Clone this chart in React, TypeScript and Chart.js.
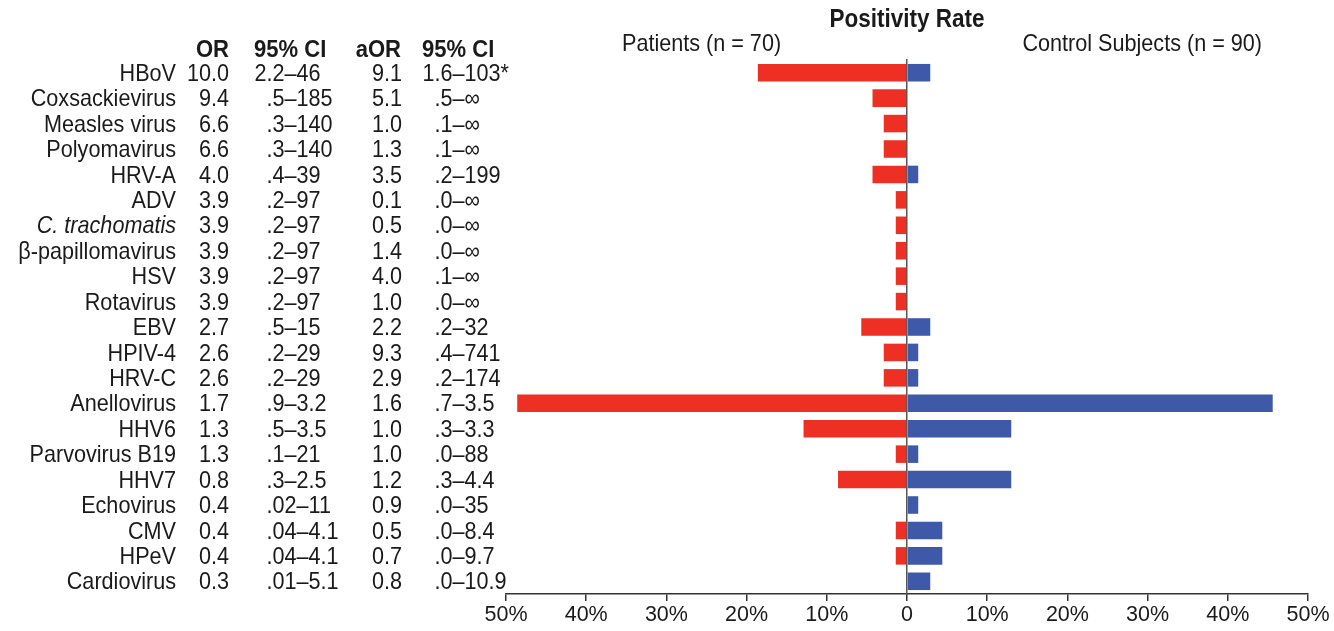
import { useEffect, useRef } from 'react';
import { Chart, registerables } from 'chart.js';

Chart.register(...registerables);

const viruses = ['HBoV', 'Coxsackievirus', 'Measles virus', 'Polyomavirus', 'HRV-A', 'ADV', 'C. trachomatis', 'β-papillomavirus', 'HSV', 'Rotavirus', 'EBV', 'HPIV-4', 'HRV-C', 'Anellovirus', 'HHV6', 'Parvovirus B19', 'HHV7', 'Echovirus', 'CMV', 'HPeV', 'Cardiovirus'];
const italicLabels = ['C. trachomatis'];
const orValues = ['10.0', '9.4', '6.6', '6.6', '4.0', '3.9', '3.9', '3.9', '3.9', '3.9', '2.7', '2.6', '2.6', '1.7', '1.3', '1.3', '0.8', '0.4', '0.4', '0.4', '0.3'];
const orCI = ['2.2–46', '.5–185', '.3–140', '.3–140', '.4–39', '.2–97', '.2–97', '.2–97', '.2–97', '.2–97', '.5–15', '.2–29', '.2–29', '.9–3.2', '.5–3.5', '.1–21', '.3–2.5', '.02–11', '.04–4.1', '.04–4.1', '.01–5.1'];
const aorValues = ['9.1', '5.1', '1.0', '1.3', '3.5', '0.1', '0.5', '1.4', '4.0', '1.0', '2.2', '9.3', '2.9', '1.6', '1.0', '1.0', '1.2', '0.9', '0.5', '0.7', '0.8'];
const aorCI = ['1.6–103*', '.5–∞', '.1–∞', '.1–∞', '.2–199', '.0–∞', '.0–∞', '.0–∞', '.1–∞', '.0–∞', '.2–32', '.4–741', '.2–174', '.7–3.5', '.3–3.3', '.0–88', '.3–4.4', '.0–35', '.0–8.4', '.0–9.7', '.0–10.9'];
const patientsRate = [18.6, 4.3, 2.9, 2.9, 4.3, 1.4, 1.4, 1.4, 1.4, 1.4, 5.7, 2.9, 2.9, 48.6, 12.9, 1.4, 8.6, 0, 1.4, 1.4, 0];
const controlRate = [2.9, 0, 0, 0, 1.4, 0, 0, 0, 0, 0, 2.9, 1.4, 1.4, 45.6, 13.0, 1.4, 13.0, 1.4, 4.4, 4.4, 2.9];
const tableHeaders = ['OR', '95% CI', 'aOR', '95% CI'];
const chartTitle = 'Positivity Rate';
const patientsLabel = 'Patients (n = 70)';
const controlLabel = 'Control Subjects (n = 90)';

const FONT = '"Liberation Sans", Arial, Helvetica, sans-serif';
const TEXT = '#1a1a1a';
const RED = '#EE3024';
const BLUE = '#3D59A8';
const NARROW = 0.9;

const tablePlugin = {
  id: 'tablePlugin',
  afterDraw(chart: any) {
    const ctx = chart.ctx;
    const y = chart.scales.y;
    const x = chart.scales.x;
    ctx.save();
    ctx.fillStyle = TEXT;
    ctx.textBaseline = 'middle';
    const reg = `24px ${FONT}`;
    const put = (s: string, px: number, py: number, align: string, font: string) => {
      ctx.save();
      ctx.font = font;
      ctx.textAlign = align;
      ctx.translate(px, py);
      ctx.scale(NARROW, 1);
      ctx.fillText(s, 0, 0);
      ctx.restore();
    };
    const decimalAlign = (s: string, anchor: number, yy: number) => {
      const idx = s.indexOf('.');
      const pre = idx >= 0 ? s.slice(0, idx) : '';
      ctx.font = reg;
      const w = ctx.measureText(pre).width * NARROW;
      put(s, anchor - w, yy, 'left', reg);
    };
    viruses.forEach((name, i) => {
      const yy = y.getPixelForValue(i) + 1.5;
      put(name, 176, yy, 'right', italicLabels.includes(name) ? `italic ${reg}` : reg);
      put(orValues[i], 229, yy, 'right', reg);
      decimalAlign(orCI[i], 266.5, yy);
      put(aorValues[i], 402, yy, 'right', reg);
      decimalAlign(aorCI[i], 434.5, yy);
    });
    const hy = y.getPixelForValue(0) - 22.5;
    const bold = `bold 24.5px ${FONT}`;
    put(tableHeaders[0], 229, hy, 'right', bold);
    put(tableHeaders[1], 254, hy, 'left', bold);
    put(tableHeaders[2], 401, hy, 'right', bold);
    put(tableHeaders[3], 422, hy, 'left', bold);

    put(chartTitle, x.getPixelForValue(0), 20, 'center', `bold 25px ${FONT}`);
    put(patientsLabel, 622, 44, 'left', reg);
    put(controlLabel, 1262, 44, 'right', reg);
    ctx.restore();
  },
};

export default function App() {
  const ref = useRef<HTMLCanvasElement | null>(null);
  useEffect(() => {
    if (!ref.current) return;
    Chart.defaults.font.family = FONT;
    const chart = new Chart(ref.current, {
      type: 'bar',
      data: {
        labels: viruses,
        datasets: [
          {
            label: patientsLabel,
            data: patientsRate.map((v) => -v),
            backgroundColor: RED,
            barPercentage: 0.69,
            categoryPercentage: 1,
          },
          {
            label: controlLabel,
            data: controlRate,
            backgroundColor: BLUE,
            barPercentage: 0.69,
            categoryPercentage: 1,
          },
        ],
      },
      options: {
        indexAxis: 'y',
        animation: false,
        responsive: false,
        maintainAspectRatio: false,
        layout: { padding: { left: 506, right: 26, top: 60, bottom: 0 } },
        plugins: { legend: { display: false }, tooltip: { enabled: false }, title: { display: false } },
        scales: {
          x: {
            type: 'linear',
            stacked: true,
            min: -50,
            max: 50,
            afterFit: (s: any) => { s.height = 37; },
            ticks: {
              stepSize: 10,
              padding: 1,
              color: TEXT,
              font: { size: 21.5, family: FONT },
              maxRotation: 0,
              callback: (v: any) => (Number(v) === 0 ? '0' : `${Math.abs(Number(v))}%`),
            },
            grid: { drawOnChartArea: false, drawTicks: true, tickLength: 7, color: '#333', lineWidth: 1.5 },
            border: { display: true, color: '#333', width: 1.5 },
          },
          y: {
            type: 'category',
            stacked: true,
            position: { x: 0 } as any,
            z: 1,
            ticks: { display: false },
            grid: { display: false, drawTicks: false },
            border: { display: true, color: '#555', width: 1.5 },
          },
        },
      } as any,
      plugins: [tablePlugin],
    });
    return () => chart.destroy();
  }, []);
  return (
    <div style={{ position: 'fixed', left: 0, top: 0, width: 1334, height: 631, background: '#fff' }}>
      <canvas ref={ref} width={1334} height={631} style={{ width: 1334, height: 631, display: 'block' }} />
    </div>
  );
}
